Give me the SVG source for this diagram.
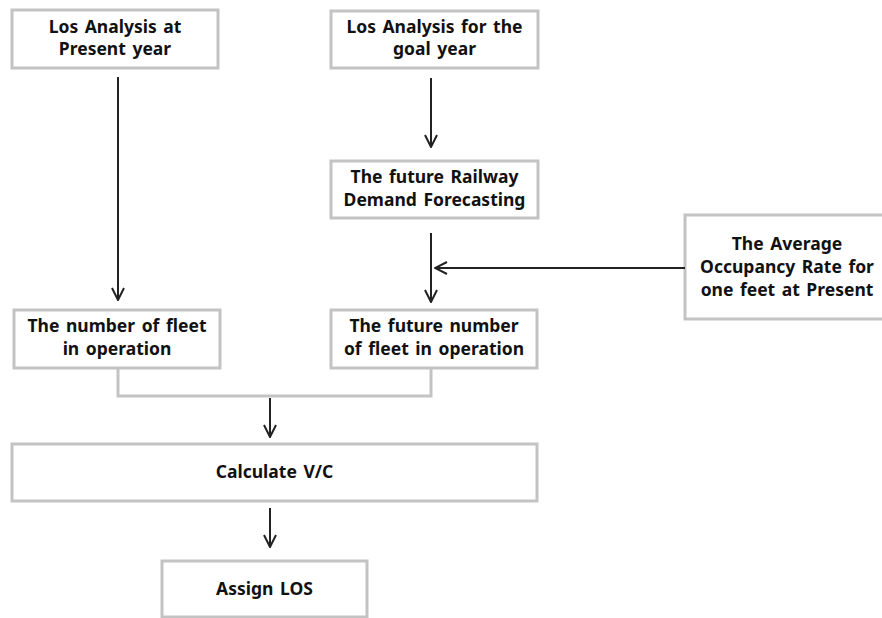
<svg xmlns="http://www.w3.org/2000/svg" width="882" height="618" viewBox="0 0 882 618">
<defs>
<style>
.box{fill:#fff;stroke:#c3c3c3;stroke-width:3}
.t{font-family:"Noto Sans","DejaVu Sans",sans-serif;font-weight:bold;font-size:17.5px;word-spacing:2px;fill:#111;text-anchor:middle}
.arr{stroke:#222;stroke-width:2;fill:none;marker-end:url(#ah)}
.br{stroke:#c3c3c3;stroke-width:3;fill:none}
</style>
<marker id="ah" viewBox="0 0 14 14" refX="13" refY="7" markerWidth="14" markerHeight="14" markerUnits="userSpaceOnUse" orient="auto">
<path d="M1,1 L13,7 L1,13" fill="none" stroke="#222" stroke-width="2"/>
</marker>
</defs>
<rect width="882" height="618" fill="#fff"/>
<g id="n1"><rect class="box" x="12" y="10" width="206" height="58"/><text class="t" x="115" y="33">Los Analysis at</text><text class="t" x="115" y="55">Present year</text></g>
<g id="n2"><rect class="box" x="331" y="11" width="207" height="57"/><text class="t" x="434.5" y="33">Los Analysis for the</text><text class="t" x="434.5" y="55">goal year</text></g>
<g id="n3"><rect class="box" x="331" y="161" width="207" height="57"/><text class="t" x="434.5" y="183">The future Railway</text><text class="t" x="434.5" y="206">Demand Forecasting</text></g>
<g id="n4"><rect class="box" x="685" y="215" width="205" height="104"/><text class="t" x="787" y="250">The Average</text><text class="t" x="787" y="273">Occupancy Rate for</text><text class="t" x="787" y="296">one feet at Present</text></g>
<g id="n5"><rect class="box" x="14" y="310" width="206" height="58"/><text class="t" x="117" y="332">The number of fleet</text><text class="t" x="117" y="355">in operation</text></g>
<g id="n6"><rect class="box" x="331" y="310" width="206" height="58"/><text class="t" x="434" y="332">The future number</text><text class="t" x="434" y="355">of fleet in operation</text></g>
<g id="n7"><rect class="box" x="12" y="444" width="525" height="57"/><text class="t" x="274.5" y="478">Calculate V/C</text></g>
<g id="n8"><rect class="box" x="162" y="561" width="205" height="56"/><text class="t" x="264.5" y="595">Assign LOS</text></g>
<g id="connectors">
<line class="arr" x1="118" y1="77" x2="118" y2="300"/>
<line class="arr" x1="431" y1="78" x2="431" y2="147"/>
<line class="arr" x1="431" y1="233" x2="431" y2="302"/>
<line class="arr" x1="685" y1="268" x2="435" y2="268"/>
<polyline class="br" points="118,368 118,396 431,396 431,368"/>
<line class="arr" x1="270" y1="398" x2="270" y2="437"/>
<line class="arr" x1="270" y1="508" x2="270" y2="547"/>
</g>
</svg>
